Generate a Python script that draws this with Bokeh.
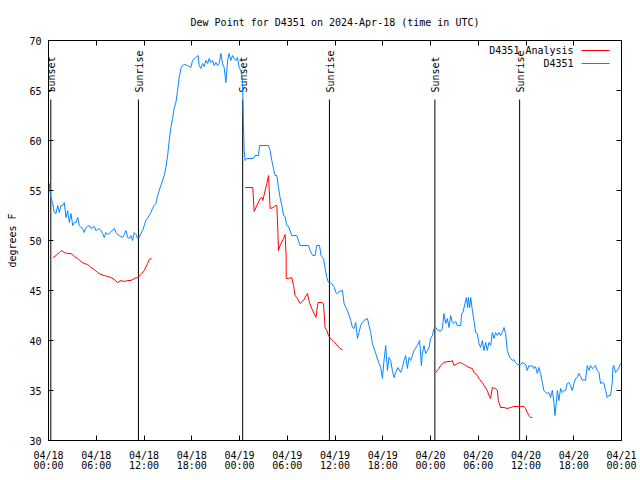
import math
from bokeh.plotting import figure
from bokeh.models import Range1d, LinearAxis, FixedTicker
from bokeh.core.properties import value
from bokeh.embed import file_html
from bokeh.resources import INLINE

# ---------------- data (hours since 2024-04-18 00:00 UTC) ----------------
title_text = "Dew Point for D4351 on 2024-Apr-18 (time in UTC)"
y_label = "degrees F"

x_ticks = [0, 6, 12, 18, 24, 30, 36, 42, 48, 54, 60, 66, 72]
x_tick_labels = ["04/18\n00:00", "04/18\n06:00", "04/18\n12:00", "04/18\n18:00",
                 "04/19\n00:00", "04/19\n06:00", "04/19\n12:00", "04/19\n18:00",
                 "04/20\n00:00", "04/20\n06:00", "04/20\n12:00", "04/20\n18:00",
                 "04/21\n00:00"]
y_ticks = [30, 35, 40, 45, 50, 55, 60, 65, 70]

event_hours = [0.29, 11.3, 24.4, 35.3, 48.55, 59.2]
event_names = ["Sunset", "Sunrise", "Sunset", "Sunrise", "Sunset", "Sunrise"]

obs_hours = [
    0.10, 0.19, 0.31, 0.53, 0.73, 0.94, 1.16, 1.36, 1.57, 1.78, 1.98, 2.20, 2.41, 2.61, 2.82,
    3.04, 3.24, 3.45, 3.67, 3.87, 4.08, 4.29, 4.49, 4.71, 4.92, 5.12, 5.34, 5.55, 5.75, 5.96,
    6.18, 6.38, 6.59, 6.80, 7.01, 7.22, 7.43, 7.63, 7.85, 8.06, 8.26, 8.47, 8.69, 8.89, 9.10,
    9.32, 9.52, 9.73, 9.94, 10.14, 10.36, 10.57, 10.77, 10.99, 11.20, 11.40, 11.61, 11.83, 12.03, 12.24,
    12.66, 12.87, 13.08, 13.28, 13.50, 13.71, 14.12, 14.54, 14.75, 14.97, 15.17, 15.38, 15.59, 15.79, 16.01,
    16.22, 16.42, 16.64, 16.85, 17.05, 17.48, 17.89, 18.10, 18.52, 18.81, 18.93, 19.15, 19.36, 19.56, 19.77,
    19.99, 20.19, 20.40, 20.62, 20.82, 21.03, 21.24, 21.44, 21.66, 21.87, 22.07, 22.29, 22.50, 22.70, 22.91,
    23.13, 23.33, 23.54, 23.75, 23.96, 24.17, 24.38, 24.46, 24.58, 24.71, 24.92, 25.76, 25.96, 26.39, 26.52,
    27.65, 27.85, 28.06, 28.27, 28.48, 28.69, 28.90, 29.10, 29.32, 29.53, 29.73, 29.94, 30.16, 30.57, 31.20,
    31.61, 32.67, 32.87, 33.21, 33.50, 33.71, 34.05, 34.25, 34.55, 34.75, 34.97, 35.18, 35.59, 35.93, 36.10,
    36.31, 36.51, 36.94, 37.14, 37.56, 37.98, 38.19, 38.39, 38.61, 38.82, 39.02, 39.23, 39.45, 39.65, 40.08,
    40.28, 40.49, 40.70, 41.12, 41.53, 41.75, 41.96, 42.16, 42.37, 42.59, 42.79, 43.00, 43.21, 43.42, 43.63,
    43.92, 44.26, 44.47, 44.67, 44.88, 45.10, 45.30, 45.51, 45.73, 45.93, 46.35, 46.64, 46.85, 46.98, 47.18,
    47.39, 47.61, 47.81, 48.02, 48.24, 48.44, 48.65, 48.86, 49.07, 49.28, 49.49, 49.69, 49.91, 50.12, 50.32,
    50.53, 50.75, 50.95, 51.16, 51.38, 51.79, 51.92, 52.08, 52.33, 52.51, 52.67, 52.76, 52.92, 53.05, 53.26,
    53.46, 53.67, 53.89, 54.09, 54.30, 54.52, 54.72, 54.93, 55.14, 55.34, 55.56, 55.77, 55.97, 56.18, 56.40,
    56.60, 56.81, 57.02, 57.23, 57.44, 57.65, 57.86, 58.07, 58.28, 58.48, 58.69, 58.90, 59.32, 59.53, 59.95,
    60.16, 60.36, 60.58, 60.79, 60.99, 61.20, 61.42, 61.62, 61.83, 62.05, 62.25, 62.46, 62.68, 62.88, 63.09,
    63.31, 63.51, 63.64, 63.81, 63.94, 64.13, 64.35, 64.56, 64.76, 64.97, 65.19, 65.39, 65.60, 65.81, 66.02,
    66.23, 66.44, 66.64, 66.86, 67.07, 67.27, 67.48, 67.70, 67.90, 68.11, 68.33, 68.53, 68.74, 68.96, 69.16,
    69.37, 69.58, 69.79, 70.00, 70.21, 70.41, 70.62, 70.84, 70.91, 71.04, 71.25, 71.47, 71.67, 71.88, 72.00,
]
obs_dewpoint = [
    55.7, 55.0, 54.3, 53.7, 52.8, 52.7, 53.5, 52.8, 53.5, 53.5, 53.8, 52.3, 53.0, 51.8, 52.7,
    51.5, 51.8, 51.8, 52.3, 51.5, 51.3, 51.2, 50.8, 51.3, 51.4, 51.5, 51.2, 51.3, 51.4, 51.0,
    51.1, 51.2, 51.0, 50.7, 50.3, 50.8, 50.6, 50.7, 50.9, 51.0, 51.2, 50.8, 50.6, 50.5, 50.4,
    50.3, 50.6, 51.0, 50.3, 50.2, 50.5, 50.0, 50.8, 50.6, 50.2, 50.3, 50.7, 51.0, 51.5, 52.0,
    52.5, 52.8, 53.2, 53.5, 53.7, 54.5, 55.5, 56.5, 57.3, 58.5, 60.0, 61.3, 62.2, 63.2, 63.8,
    65.0, 66.3, 67.2, 67.5, 67.6, 67.5, 67.3, 68.0, 68.3, 68.5, 67.5, 67.2, 67.7, 67.4, 68.0,
    67.7, 68.2, 67.8, 68.0, 67.5, 67.8, 67.5, 67.7, 68.7, 67.7, 67.3, 65.8, 68.0, 68.7, 68.0,
    68.5, 68.2, 68.0, 68.3, 67.3, 67.0, 66.0, 62.7, 59.0, 58.0, 58.2, 58.2, 58.5, 58.5, 59.5,
    59.5, 59.0, 58.0, 57.2, 56.5, 56.5, 55.3, 54.3, 53.5, 52.5, 52.4, 51.5, 51.4, 50.5, 50.5,
    49.5, 49.5, 49.0, 48.5, 48.5, 49.5, 49.5, 48.5, 48.2, 47.3, 46.3, 45.8, 45.7, 45.3, 44.8,
    44.7, 44.9, 45.0, 43.7, 43.0, 42.0, 41.3, 41.2, 41.8, 40.2, 40.8, 41.5, 41.8, 42.0, 42.2,
    41.5, 40.8, 39.7, 38.7, 37.7, 37.3, 36.2, 38.0, 39.5, 37.0, 38.3, 38.0, 37.0, 36.3, 36.8,
    37.3, 36.8, 37.3, 38.0, 38.5, 37.2, 38.3, 38.0, 38.5, 39.0, 39.5, 40.0, 37.5, 38.7, 39.5,
    38.7, 39.0, 39.3, 40.2, 40.5, 41.2, 41.3, 41.1, 41.0, 40.9, 41.2, 42.7, 41.7, 42.2, 41.3,
    42.5, 41.8, 41.7, 41.9, 41.5, 41.5, 42.7, 42.8, 43.7, 44.3, 43.3, 44.3, 43.3, 44.3, 43.0,
    42.0, 40.8, 40.7, 39.7, 39.3, 40.0, 39.0, 39.8, 39.0, 39.8, 39.5, 40.8, 40.2, 40.8, 40.5,
    40.8, 40.5, 40.8, 41.3, 40.7, 39.0, 38.5, 38.2, 38.0, 38.1, 37.8, 37.6, 37.6, 37.8, 37.6,
    37.0, 37.5, 37.4, 37.5, 37.2, 37.4, 36.7, 37.3, 36.7, 35.8, 35.0, 34.8, 34.7, 34.8, 34.3,
    35.0, 33.8, 32.5, 33.8, 35.0, 34.0, 35.2, 34.8, 35.0, 35.0, 35.7, 35.8, 35.5, 35.0, 35.7,
    36.2, 36.3, 36.7, 36.4, 36.0, 36.1, 36.0, 37.5, 37.0, 37.5, 37.2, 37.3, 37.5, 37.0, 36.8,
    35.7, 35.8, 35.7, 35.0, 34.3, 34.5, 34.5, 35.8, 37.3, 37.5, 36.8, 37.0, 37.3, 37.7, 37.8,
]

nan = float("nan")
ana_hours = [
    0.60, 0.94, 1.36, 1.66, 1.98, 2.41, 2.82, 3.24, 3.67, 4.08, 4.49, 4.92, 5.34, 5.75, 6.18,
    6.59, 7.01, 7.43, 7.85, 8.26, 8.69, 9.10, 9.52, 9.94, 10.36, 10.77, 11.20, 11.61, 12.03, 12.46,
    12.66, 12.96, nan,
    24.71, 24.92, 25.67, 25.84, 26.18, 26.59, 26.81, 26.93, 27.22, 27.43, 27.65, 27.72, 27.85, 28.27, 28.48,
    28.69, 28.81, 28.90, 29.10, 29.53, 29.73, 29.86, 29.87, 30.16, 30.57, 30.79, 30.99, 31.20, 31.61, 32.04,
    32.24, 32.54, 32.79, 33.08, 33.37, 33.62, 33.71, 33.87, 34.34, 34.55, 34.68, 34.75, 34.97, 35.18, 35.47,
    35.81, 36.22, 36.51, 36.81, 36.94, nan,
    48.65, 49.07, 49.28, 49.69, 50.12, 50.53, 50.75, 50.95, 51.38, 51.79, 52.00, 52.42, 52.83, 53.26, 53.46,
    53.89, 54.09, 54.52, 54.72, 55.14, 55.34, 55.56, 55.77, 56.18, 56.40, 56.52, 56.81, 57.23, 57.65, 58.07,
    58.48, 59.32, 59.74, 59.95, 60.16, 60.36, 60.58, 60.79,
]
ana_dewpoint = [
    48.3, 48.5, 48.8, 49.0, 48.8, 48.7, 48.7, 48.4, 48.2, 47.9, 47.7, 47.6, 47.3, 47.1, 46.8,
    46.6, 46.5, 46.4, 46.3, 46.1, 45.8, 46.0, 45.9, 46.0, 46.0, 46.2, 46.3, 46.6, 47.0, 47.7,
    48.1, 48.2, nan,
    55.3, 55.3, 55.3, 52.9, 53.5, 54.2, 54.3, 54.0, 55.0, 55.7, 56.5, 55.3, 53.2, 53.3, 53.5,
    53.5, 51.2, 49.0, 49.5, 50.2, 50.6, 48.5, 46.2, 46.2, 46.3, 45.5, 44.5, 44.3, 43.7, 44.0,
    44.3, 44.7, 43.8, 43.2, 42.7, 42.3, 43.0, 43.8, 43.8, 43.7, 42.3, 41.3, 41.0, 40.5, 40.2,
    39.9, 39.6, 39.3, 39.1, 39.1, nan,
    36.8, 37.2, 37.5, 37.8, 37.9, 37.9, 38.0, 37.5, 37.7, 37.8, 37.7, 37.5, 37.3, 37.2, 36.8,
    36.5, 36.2, 35.8, 35.5, 35.0, 34.5, 34.2, 35.3, 35.2, 35.0, 34.0, 33.3, 33.3, 33.2, 33.3,
    33.4, 33.4, 33.4, 33.2, 32.8, 32.5, 32.3, 32.3,
]

legend_names = ["D4351 Analysis", "D4351"]

# ---------------- styling ----------------
FONT = "DejaVu Sans Mono"
FS = "10px"
BLUE = "#0a84ff"
RED = "#ff0000"
X0, X1, Y0, Y1 = 0, 72, 30, 70
EVENT_LINE_TOP = 64.1
EVENT_TEXT_Y = 64.8

p = figure(width=640, height=480, output_backend="svg", toolbar_location=None,
           x_range=Range1d(X0, X1), y_range=Range1d(Y0, Y1),
           x_axis_type=None, y_axis_type=None,
           min_border_left=48, min_border_right=19, min_border_top=40, min_border_bottom=40)
p.grid.visible = False
p.outline_line_color = "black"
p.outline_line_width = 1
p.background_fill_color = "white"
p.border_fill_color = "white"

p.title.text = title_text
p.title.text_font = FONT
p.title.text_font_size = FS
p.title.text_font_style = "normal"
p.title.align = "center"
p.title.text_color = "black"
p.title.standoff = 26

xt = FixedTicker(ticks=x_ticks)
yt = FixedTicker(ticks=y_ticks)
overrides = {t: lab for t, lab in zip(x_ticks, x_tick_labels)}
yover = {t: str(t) for t in y_ticks}

def style_axis(ax, show_labels):
    ax.axis_line_color = "black"
    ax.major_tick_line_color = "black"
    ax.major_tick_in = 5
    ax.major_tick_out = 0
    ax.minor_tick_in = 0
    ax.minor_tick_out = 0
    ax.major_label_text_font = FONT
    if show_labels:
        ax.major_label_text_font_size = FS
        ax.major_label_text_color = "black"
    else:
        ax.major_label_text_font_size = "0px"
        ax.major_label_text_color = None
        ax.major_label_standoff = 0

bx = LinearAxis(ticker=xt, major_label_overrides=overrides)
style_axis(bx, True)
bx.major_label_standoff = 9
bx.major_label_text_line_height = 0.96
p.add_layout(bx, "below")

tx = LinearAxis(ticker=xt)
style_axis(tx, False)
p.add_layout(tx, "above")

ly = LinearAxis(ticker=yt, major_label_overrides=yover)
style_axis(ly, True)
ly.major_label_standoff = 7
ly.axis_label = y_label
ly.axis_label_text_font = FONT
ly.axis_label_text_font_size = FS
ly.axis_label_text_font_style = "normal"
ly.axis_label_text_color = "black"
ly.axis_label_standoff = 8
p.add_layout(ly, "left")

ry = LinearAxis(ticker=yt)
style_axis(ry, False)
p.add_layout(ry, "right")

# sunrise / sunset markers
p.segment(x0=event_hours, y0=[Y0] * len(event_hours), x1=event_hours,
          y1=[EVENT_LINE_TOP] * len(event_hours), line_color="black", line_width=1)
p.text(x=event_hours, y=[EVENT_TEXT_Y] * len(event_hours), text=event_names,
       angle=math.pi / 2, text_align="left", text_baseline="middle", x_offset=1,
       text_font=value(FONT), text_font_size=FS, text_color="black")

# data
p.line(ana_hours, ana_dewpoint, line_color=RED, line_width=1)
p.line(obs_hours, obs_dewpoint, line_color=BLUE, line_width=1)

# legend (gnuplot style: text right, sample line on the right)
LEG_TEXT_X = 65.98
LEG_LINE_X0, LEG_LINE_X1 = 66.98, 70.5
LEG_Y = [69.0, 67.7]
p.text(x=[LEG_TEXT_X] * 2, y=LEG_Y, text=legend_names, text_align="right",
       text_baseline="middle", text_font=value(FONT), text_font_size=FS, text_color="black")
p.segment(x0=[LEG_LINE_X0] * 2, y0=LEG_Y, x1=[LEG_LINE_X1] * 2, y1=LEG_Y,
          line_color=[RED, BLUE], line_width=1)

open("out.html", "w").write(file_html(p, INLINE))
